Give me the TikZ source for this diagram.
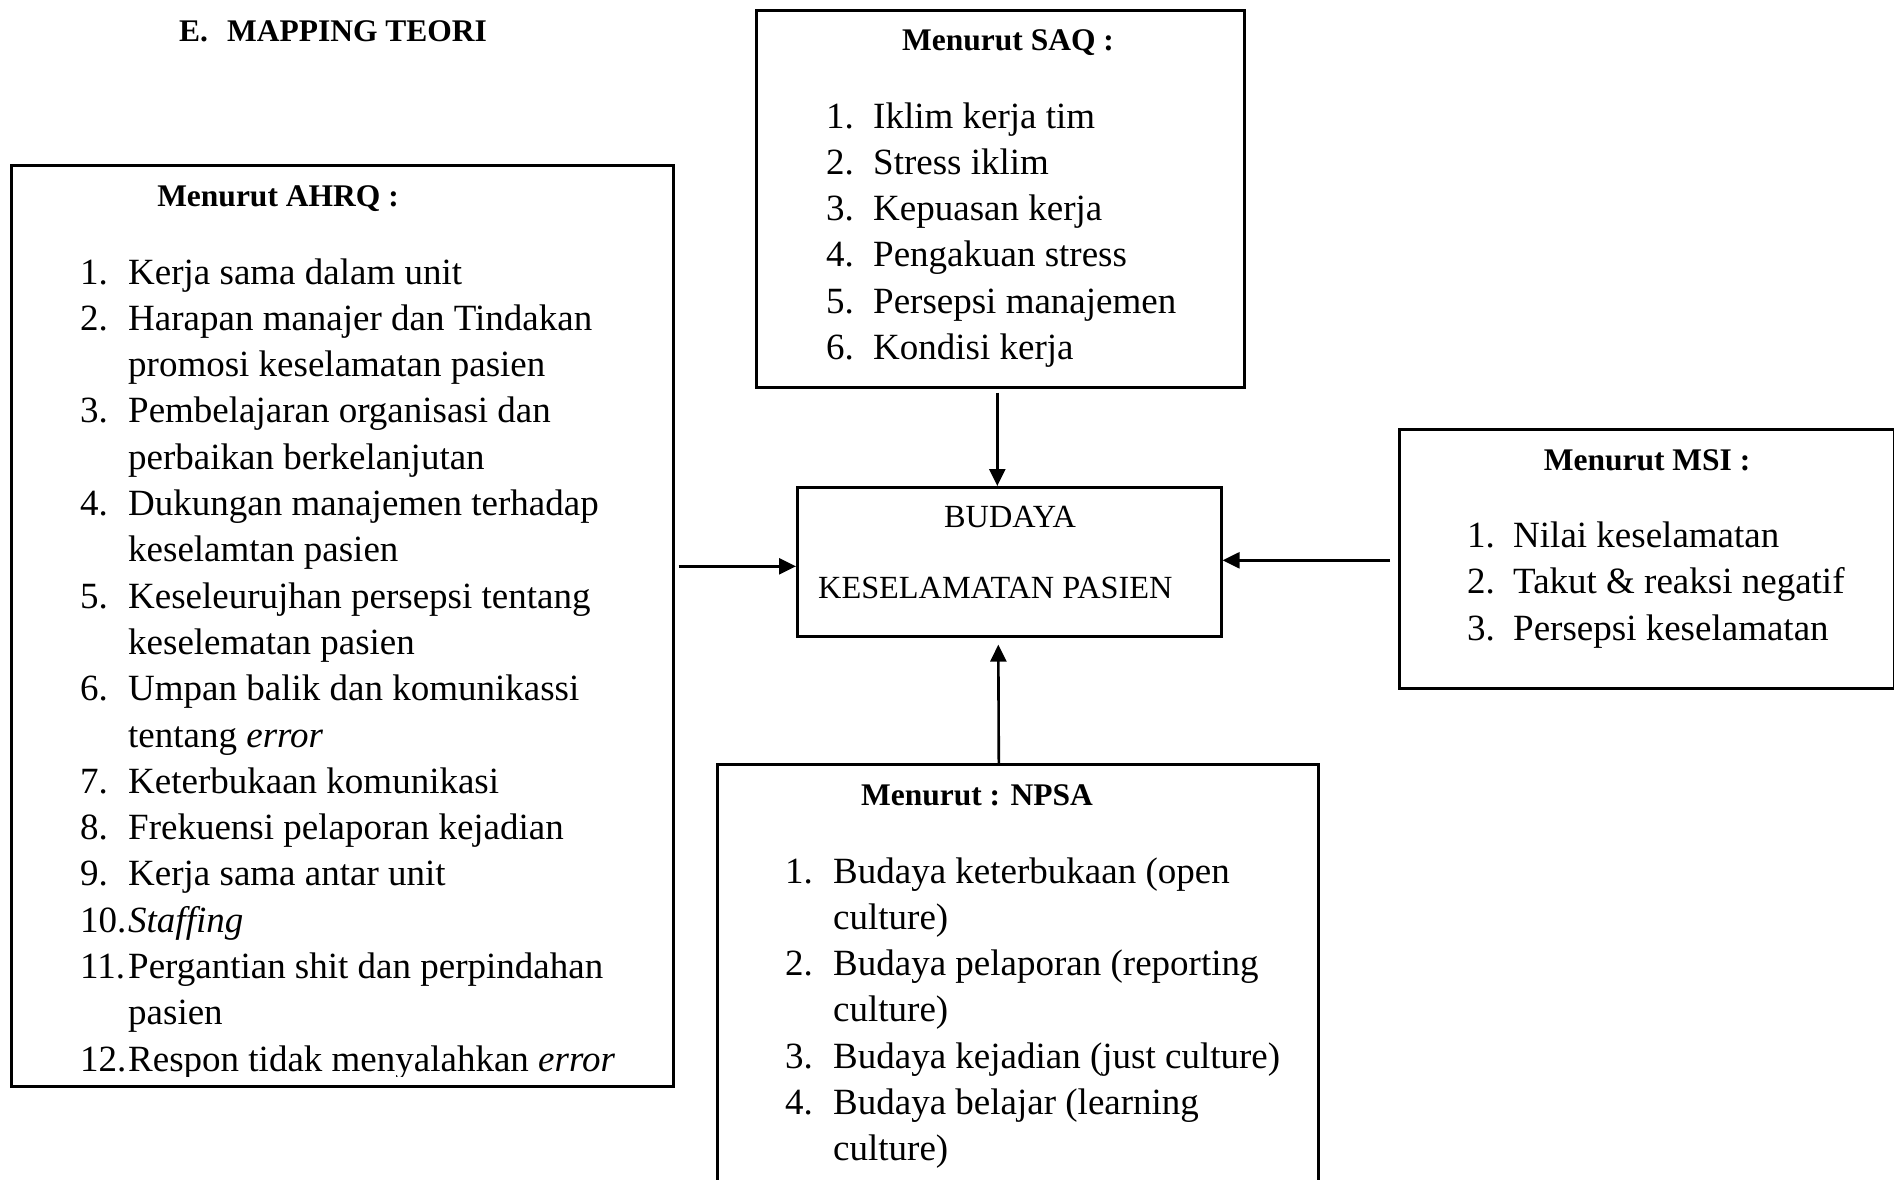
\documentclass[tikz,border=0pt]{standalone}
\usepackage{fontspec}
\setmainfont{Liberation Serif}
\usetikzlibrary{arrows.meta,calc}
\newcommand\mfit{\fontsize{37}{46}\selectfont}
\newcommand\mfhd{\fontsize{31.5}{38}\selectfont\bfseries}
\newcommand\mfbx{\fontsize{32.3}{38}\selectfont}
\begin{document}
\begin{tikzpicture}[x=1pt,y=-1pt,
  box/.style={draw, line width=2.6pt, inner sep=0pt, anchor=north west},
  arr/.style={line width=2.6pt, -{Triangle[length=17pt,width=16pt]}},
  txt/.style={anchor=base west, inner sep=0pt, font=\mfit},
  hd/.style={anchor=base, inner sep=0pt, font=\mfhd},
  bx/.style={inner sep=0pt, font=\mfbx}]
\useasboundingbox (0,0) rectangle (1894,1179);
\clip (0,0) rectangle (1894,1179);
\fill[white] (0,0) rectangle (1894,1179);

% title
\node[anchor=base west, inner sep=0pt, font=\mfhd] (title) at (179,41) {E.\hspace{19pt}MAPPING TEORI};

% boxes
\node[box, minimum width=662pt, minimum height=921pt] (ahrq) at (10,164) {};
\node[box, minimum width=488pt, minimum height=377pt] (saq) at (755,9) {};
\node[box, minimum width=424pt, minimum height=149pt] (bud) at (796,486) {};
\node[box, minimum width=495pt, minimum height=259pt] (msi) at (1398,428) {};
\node[box, minimum width=601pt, minimum height=500pt] (npsa) at (716,763) {};

% headers
\node[hd] (ahrqh) at (278,206) {Menurut AHRQ :};
\node[hd] (saqh) at (1008,50) {Menurut SAQ :};
\node[hd] (msih) at (1647,470) {Menurut MSI :};
\node[hd] (npsah) at (977,805) {Menurut : NPSA};

% central text
\node[bx, anchor=base] (budl1) at (1010,527) {BUDAYA};
\node[bx, anchor=base west] (budl2) at (818,598) {KESELAMATAN PASIEN};

% AHRQ list
\begin{scope}
\clip (10,164) rectangle (672,1076);
\foreach \num/\txt [count=\k from 0] in {
  1./Kerja sama dalam unit,
  2./Harapan manajer dan Tindakan,
  /promosi keselamatan pasien,
  3./Pembelajaran organisasi dan,
  /perbaikan berkelanjutan,
  4./Dukungan manajemen terhadap,
  /keselamtan pasien,
  5./Keseleurujhan persepsi tentang,
  /keselematan pasien,
  6./Umpan balik dan komunikassi,
  /tentang \textit{error},
  7./Keterbukaan komunikasi,
  8./Frekuensi pelaporan kejadian,
  9./Kerja sama antar unit,
  10./\textit{Staffing},
  11./Pergantian shit dan perpindahan,
  /pasien,
  12./Respon tidak menyalahkan \textit{error}}{
  \node[txt] (ahrqn\k) at (80,284+46.3*\k) {\num};
  \node[txt] (ahrqt\k) at (128,284+46.3*\k) {\txt};
}
\end{scope}

% SAQ list
\foreach \num/\txt [count=\k from 0] in {
  1./Iklim kerja tim,
  2./Stress iklim,
  3./Kepuasan kerja,
  4./Pengakuan stress,
  5./Persepsi manajemen,
  6./Kondisi kerja}{
  \node[txt] (saqn\k) at (826,128+46.3*\k) {\num};
  \node[txt] (saqt\k) at (873,128+46.3*\k) {\txt};
}

% MSI list
\foreach \num/\txt [count=\k from 0] in {
  1./Nilai keselamatan,
  2./Takut \& reaksi negatif,
  3./Persepsi keselamatan}{
  \node[txt] (msin\k) at (1467,547+46.5*\k) {\num};
  \node[txt] (msit\k) at (1513,547+46.5*\k) {\txt};
}

% NPSA list
\foreach \num/\txt [count=\k from 0] in {
  1./Budaya keterbukaan (open,
  /culture),
  2./Budaya pelaporan (reporting,
  /culture),
  3./Budaya kejadian (just culture),
  4./Budaya belajar (learning,
  /culture)}{
  \node[txt] (npsan\k) at (785,883+46.3*\k) {\num};
  \node[txt] (npsat\k) at (833,883+46.3*\k) {\txt};
}

% connectors
\draw[arr] ($(saq.south)+(-3,4)$) -- ($(bud.north)+(-12,0)$);
\draw[arr] ($(ahrq.east |- bud.west)+(4,4.5)$) -- ($(bud.west)+(0,4.5)$);
\draw[arr] ($(msi.west |- bud.east)+(-8,-1.5)$) -- ($(bud.east)+(0,-1.5)$);
\draw[arr] ($(npsa.north)+(-19,0)$) -- ($(bud.south)+(-11,7)$);
\end{tikzpicture}
\end{document}
